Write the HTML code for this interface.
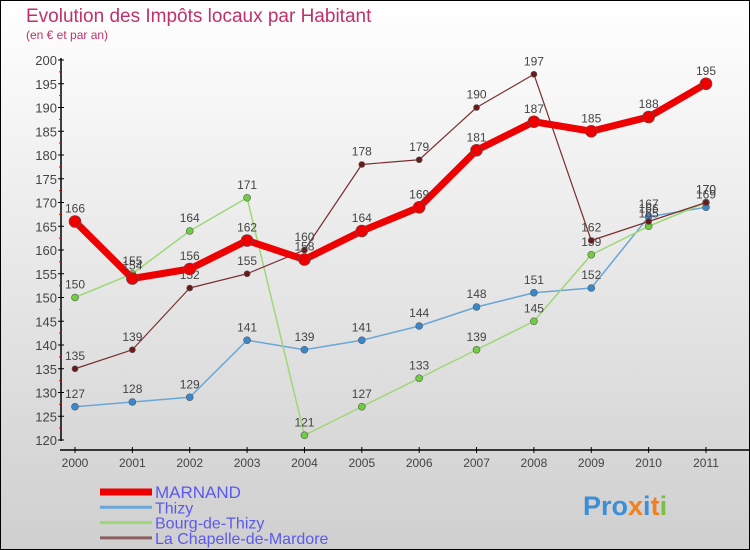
<!DOCTYPE html>
<html><head><meta charset="utf-8"><style>
body{margin:0}
#c{width:750px;height:550px;position:relative;box-sizing:border-box;border:1px solid #000;background:linear-gradient(#ffffff,#cfcfcf);font-family:"Liberation Sans",sans-serif;overflow:hidden}
</style></head><body>
<div id="c">
<svg width="750" height="550" style="position:absolute;left:-1px;top:-1px" id="s">
<text x="26" y="22" font-size="19" fill="#c0306a">Evolution des Impôts locaux par Habitant</text>
<text x="26" y="39" font-size="12" fill="#c0306a">(en € et par an)</text>
<g id="axes"></g><g id="series"></g><g id="legend"></g>
<text x="583" y="515" font-size="27" font-weight="bold" fill="#3a8fd8">Pro<tspan fill="#f08020">x</tspan><tspan fill="#3a8fd8">i</tspan><tspan fill="#f08020">t</tspan><tspan fill="#7ac043">i</tspan></text>
</svg>
</div>
<script>
const years=[2000,2001,2002,2003,2004,2005,2006,2007,2008,2009,2010,2011];
const marnand=[166,154,156,162,158,164,169,181,187,185,188,195];
const thizy=[127,128,129,141,139,141,144,148,151,152,167,169];
const bourg=[150,155,164,171,121,127,133,139,145,159,165,170];
const chapelle=[135,139,152,155,160,178,179,190,197,162,166,170];
const yTicks=[120,125,130,135,140,145,150,155,160,165,170,175,180,185,190,195,200];
const NS="http://www.w3.org/2000/svg";
const X=i=>75+i*(631/11);
const Y=v=>440-(v-120)*4.75;
function mk(t,a,p){const e=document.createElementNS(NS,t);for(const k in a)e.setAttribute(k,a[k]);p.appendChild(e);return e;}
const ax=document.getElementById('axes');
let l=mk('line',{x1:61,y1:58,x2:61,y2:441,stroke:'#000','stroke-width':1.5},ax);


l=mk('line',{x1:60,y1:450,x2:750,y2:450,stroke:'#000','stroke-width':1.5},ax);


yTicks.forEach(v=>{
 mk('line',{x1:58,y1:Y(v),x2:64,y2:Y(v),stroke:'#000'},ax);
 if(v<200) mk('line',{x1:59,y1:Y(v+2.5),x2:62,y2:Y(v+2.5),stroke:'#d00'},ax);
 const t=mk('text',{x:57,y:Y(v)+5,'font-size':13,fill:'#444','text-anchor':'end'},ax);t.textContent=v;
 
 
});
years.forEach((y,i)=>{
 mk('line',{x1:X(i),y1:447,x2:X(i),y2:453,stroke:'#000'},ax);
 const t=mk('text',{x:X(i),y:467,'font-size':12,fill:'#444','text-anchor':'middle'},ax);t.textContent=y;
 
 
});
const sg=document.getElementById('series');
function draw(data,col,w,r,name,dot){
 const g=mk('g',{},sg);
 
 
 mk('polyline',{points:data.map((v,i)=>X(i)+','+Y(v)).join(' '),fill:'none',stroke:col,'stroke-width':w,'stroke-linejoin':'round'},g);
 data.forEach((v,i)=>{
  const c=mk('circle',{cx:X(i),cy:Y(v),r:r,fill:dot,stroke:'#555','stroke-width':0.6},g);
  
  
  const t=mk('text',{x:X(i),y:Y(v)-9,'font-size':12,fill:'#444','text-anchor':'middle'},g);t.textContent=v;
  
  
 });
}
draw(thizy,'#6aa6d8',1.5,3.5,'series-thizy','#3a88cc');
draw(bourg,'#9ed874',1.5,3.5,'series-bourg-de-thizy','#70cc40');
draw(chapelle,'#7a3030',1.2,3,'series-la-chapelle','#6a1a1a');
draw(marnand,'#ee0000',7,6,'series-marnand','#ee0000');
const lg=document.getElementById('legend');
[['MARNAND','#ee0000',7,17],['Thizy','#6aa6d8',3,16],['Bourg-de-Thizy','#9ed874',3,16],['La Chapelle-de-Mardore','#8a6060',3,16]].forEach((e,i)=>{
 const y=492+i*15.3;
 const g=mk('g',{},lg);
 
 
 mk('line',{x1:100,y1:y,x2:152,y2:y,stroke:e[1],'stroke-width':e[2]},g);
 const t=mk('text',{x:155,y:y+6,'font-size':e[3],fill:'#5a5aee'},g);t.textContent=e[0];
});
</script>
</body></html>
